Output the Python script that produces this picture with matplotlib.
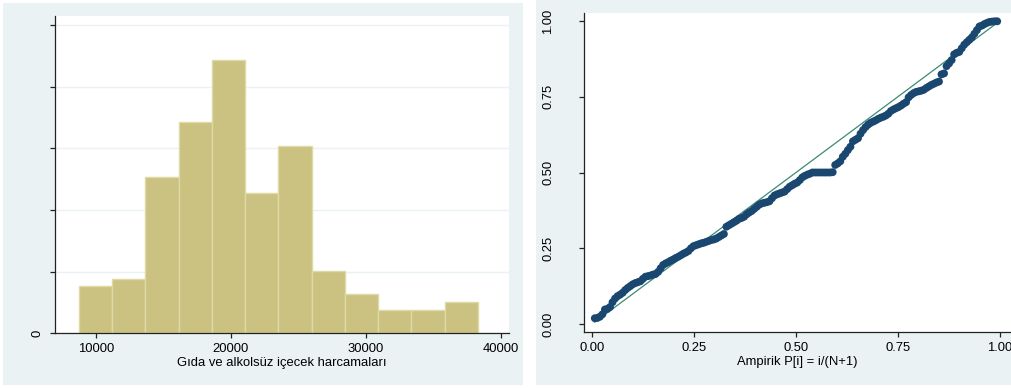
import numpy as np
import matplotlib.pyplot as plt
from matplotlib.patches import Rectangle

plt.rcParams['font.family'] = ['Liberation Sans', 'DejaVu Sans']
plt.rcParams['font.size'] = 9.4

# histogram: frequency per bin, bins span [first_edge, last_edge]
counts = [6, 7, 20, 27, 35, 18, 24, 8, 5, 3, 3, 4]
first_edge = 8741
last_edge = 38319
hist_xticks = [10000, 20000, 30000, 40000]
hist_yticks = [0, 0.00002, 0.00004, 0.00006, 0.00008, 0.0001]
hist_xlabel = "Gıda ve alkolsüz içecek harcamaları"

# normal probability plot: Phi((x_i - mean)/sd) for sorted observations
pnorm_y = [
    0.019, 0.020, 0.024, 0.032, 0.048, 0.050, 0.056, 0.072, 0.084, 0.092,
    0.097, 0.103, 0.112, 0.119, 0.125, 0.131, 0.135, 0.138, 0.141, 0.149,
    0.156, 0.158, 0.160, 0.163, 0.165, 0.172, 0.184, 0.195, 0.200, 0.204,
    0.209, 0.213, 0.218, 0.222, 0.227, 0.232, 0.236, 0.241, 0.250, 0.257,
    0.260, 0.263, 0.266, 0.268, 0.271, 0.274, 0.277, 0.279, 0.282, 0.287,
    0.292, 0.297, 0.321, 0.326, 0.331, 0.336, 0.341, 0.347, 0.350, 0.354,
    0.362, 0.368, 0.373, 0.380, 0.387, 0.394, 0.398, 0.400, 0.402, 0.405,
    0.415, 0.424, 0.428, 0.431, 0.434, 0.437, 0.445, 0.453, 0.458, 0.463,
    0.467, 0.475, 0.484, 0.489, 0.493, 0.496, 0.500, 0.500, 0.500, 0.500,
    0.500, 0.500, 0.500, 0.500, 0.501, 0.525, 0.530, 0.537, 0.552, 0.562,
    0.574, 0.585, 0.603, 0.608, 0.613, 0.628, 0.640, 0.650, 0.658, 0.664,
    0.668, 0.672, 0.677, 0.681, 0.684, 0.688, 0.694, 0.703, 0.708, 0.712,
    0.716, 0.721, 0.727, 0.732, 0.748, 0.756, 0.762, 0.766, 0.768, 0.770,
    0.773, 0.779, 0.784, 0.789, 0.793, 0.797, 0.800, 0.824, 0.827, 0.851,
    0.860, 0.871, 0.890, 0.895, 0.898, 0.910, 0.922, 0.930, 0.938, 0.946,
    0.958, 0.970, 0.982, 0.985, 0.990, 0.994, 0.997, 0.998, 0.999, 0.999,
]
pnorm_ticks = [0.0, 0.25, 0.5, 0.75, 1.0]
pnorm_xlabel = "Ampirik P[i] = i/(N+1)"

BG = "#EAF2F3"
BAR = "#CBC282"
BAR_EDGE = "#DEDAA6"
NAVY = "#1A476F"
LINE = "#3B8A76"

fig = plt.figure(figsize=(10.11, 3.88), dpi=100)
fig.patch.set_facecolor("white")

# panel backgrounds
fig.patches.append(Rectangle((2.7 / 1011, (388 - 385) / 388), 520 / 1011, 382.3 / 388,
                             transform=fig.transFigure, facecolor=BG, edgecolor="none", zorder=-1))
fig.patches.append(Rectangle((536 / 1011, (388 - 385) / 388), 475 / 1011, 385 / 388,
                             transform=fig.transFigure, facecolor=BG, edgecolor="none", zorder=-1))


def style_axes(ax):
    for s in ["top", "right"]:
        ax.spines[s].set_visible(False)
    for s in ["left", "bottom"]:
        ax.spines[s].set_color("#222222")
        ax.spines[s].set_linewidth(0.9)
    ax.tick_params(direction="out", length=3.6, width=0.9, color="#222222", labelsize=9.4)


# --- histogram ---
ax1 = fig.add_axes([55 / 1011, (388 - 333.3) / 388, 454 / 1011, 317.3 / 388])
style_axes(ax1)
n = sum(counts)
edges = np.linspace(first_edge, last_edge, len(counts) + 1)
width = edges[1] - edges[0]
density = np.array(counts) / (n * width)
ax1.set_axisbelow(True)
ax1.bar(edges[:-1], density, width=width, align="edge", color=BAR,
        edgecolor=BAR_EDGE, linewidth=1.0, zorder=2)
ax1.set_yticks(hist_yticks)
ax1.set_yticklabels(["0"] + [""] * (len(hist_yticks) - 1), rotation=90, va="center")
ax1.yaxis.grid(True, color=BG, linewidth=1.0, zorder=0)
ax1.set_xticks(hist_xticks)
ax1.set_xticklabels([str(v) for v in hist_xticks])
ax1.set_xlim(6985, 40615)
ax1.set_ylim(0, 1.029e-4)
ax1.tick_params(axis="y", pad=4.5)
ax1.tick_params(axis="x", pad=3.5)
ax1.set_xlabel(hist_xlabel, fontsize=9.4, labelpad=1)

# --- normal probability plot ---
ax2 = fig.add_axes([584.3 / 1011, (388 - 332.3) / 388, (1011 - 584.3) / 1011, 319.6 / 388])
style_axes(ax2)
N = len(pnorm_y)
p_emp = np.arange(1, N + 1) / (N + 1)
ax2.plot([p_emp[0], p_emp[-1]], [p_emp[0], p_emp[-1]], color=LINE, linewidth=0.9, zorder=2)
ax2.scatter(p_emp, pnorm_y, s=32, color=NAVY, edgecolors="none", zorder=3)
ax2.set_xticks(pnorm_ticks)
ax2.set_xticklabels([f"{v:.2f}" for v in pnorm_ticks])
ax2.set_yticks(pnorm_ticks)
ax2.set_yticklabels([f"{v:.2f}" for v in pnorm_ticks], rotation=90, va="center")
ax2.set_xlim(-0.0196, 1.0277)
ax2.set_ylim(-0.0274, 1.0274)
ax2.tick_params(axis="y", pad=18)
ax2.tick_params(axis="x", pad=3.5)
ax2.set_xlabel(pnorm_xlabel, fontsize=9.4, labelpad=1)

fig.savefig("out.png", dpi=100)
